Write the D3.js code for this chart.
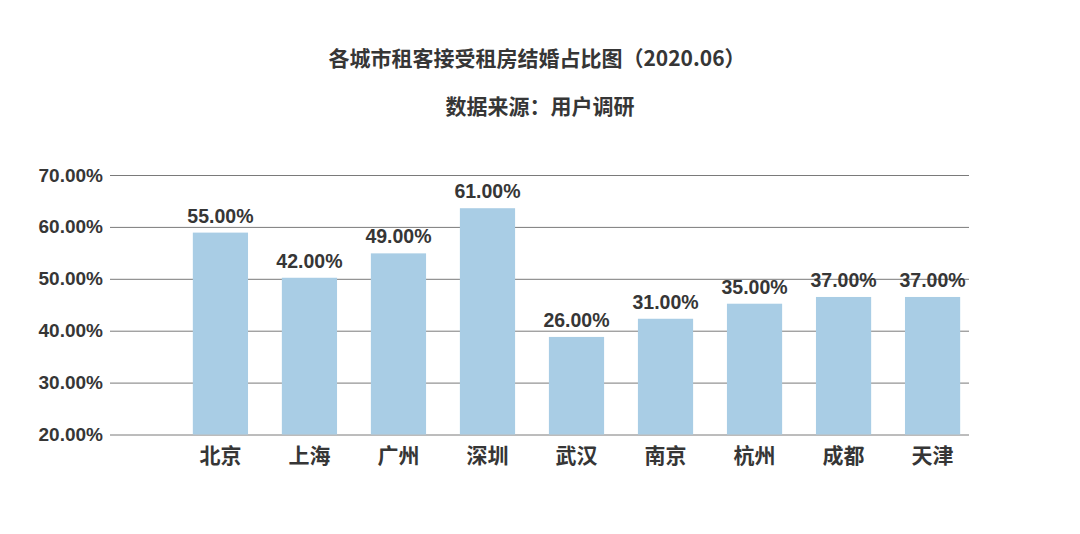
<!DOCTYPE html>
<html lang="zh">
<head>
    <meta charset="UTF-8">
    <title>各城市租客接受租房结婚占比图</title>
    <script src="https://cdnjs.cloudflare.com/ajax/libs/d3/7.8.5/d3.min.js"></script>
    <style>
        body {
            margin: 0;
            padding: 0;
            background-color: #ffffff;
            font-family: "Liberation Sans", Arial, "Noto Sans CJK SC", sans-serif;
        }
        #chart {
            width: 1080px;
            height: 534px;
        }
    </style>
</head>
<body>
    <div id="chart"></div>
    <script>
        // cities on the x axis
        const cities = ["北京", "上海", "广州", "深圳", "武汉", "南京", "杭州", "成都", "天津"];
        // values printed above the bars
        const labelValues = [55, 42, 49, 61, 26, 31, 35, 37, 37];
        // bar heights as drawn in the picture (on the axis scale)
        const barValues = [58.9, 50.2, 54.9, 63.6, 38.8, 42.3, 45.2, 46.5, 46.5];
        // y axis ticks
        const yTicks = [20, 30, 40, 50, 60, 70];

        const width = 1080;
        const height = 534;
        const textColor = "#363636";

        const svg = d3.select("#chart")
            .append("svg")
            .attr("width", width)
            .attr("height", height)
            .attr("viewBox", [0, 0, width, height]);

        const x = d3.scaleBand()
            .domain(cities)
            .range([159, 994])
            .padding(0.38);

        const y = d3.scaleLinear()
            .domain([20, 70])
            .range([434.5, 175]);

        // title
        svg.append("text")
            .attr("x", 537)
            .attr("y", 57)
            .attr("text-anchor", "middle")
            .attr("dominant-baseline", "central")
            .style("font-family", "'Noto Sans CJK SC', sans-serif")
            .style("font-weight", "bold")
            .style("font-size", "21px")
            .style("fill", textColor)
            .text("各城市租客接受租房结婚占比图（2020.06）");

        svg.append("text")
            .attr("x", 540)
            .attr("y", 105)
            .attr("text-anchor", "middle")
            .attr("dominant-baseline", "central")
            .style("font-family", "'Noto Sans CJK SC', sans-serif")
            .style("font-weight", "bold")
            .style("font-size", "21px")
            .style("fill", textColor)
            .text("数据来源：用户调研");

        // grid lines + y labels
        const yAxis = d3.axisLeft(y)
            .tickValues(yTicks)
            .tickSize(-(969 - 110))
            .tickPadding(7)
            .tickFormat(d => d.toFixed(2) + "%");

        const gy = svg.append("g")
            .attr("transform", "translate(110,0)")
            .call(yAxis);
        gy.select(".domain").remove();
        gy.selectAll(".tick line")
            .attr("stroke", "#7a7a7a")
            .attr("stroke-width", 1);
        gy.selectAll(".tick text")
            .attr("x", -7)
            .style("font-family", "'Liberation Sans', Arial, sans-serif")
            .style("font-weight", "bold")
            .style("font-size", "19px")
            .style("fill", textColor);

        // bars
        svg.append("g")
            .selectAll("rect")
            .data(cities)
            .join("rect")
            .attr("x", d => x(d))
            .attr("width", x.bandwidth())
            .attr("y", (d, i) => y(barValues[i]))
            .attr("height", (d, i) => y(20) - y(barValues[i]))
            .attr("fill", "#a9cde5");

        // value labels
        svg.append("g")
            .selectAll("text")
            .data(cities)
            .join("text")
            .attr("x", d => x(d) + x.bandwidth() / 2)
            .attr("y", (d, i) => y(barValues[i]) - 10)
            .attr("text-anchor", "middle")
            .style("font-family", "'Liberation Sans', Arial, sans-serif")
            .style("font-weight", "bold")
            .style("font-size", "19.5px")
            .style("fill", textColor)
            .text((d, i) => labelValues[i].toFixed(2) + "%");

        // x labels
        const xAxis = d3.axisBottom(x).tickSize(0).tickPadding(0);
        const gx = svg.append("g")
            .attr("transform", "translate(0,434.5)")
            .call(xAxis);
        gx.select(".domain").remove();
        gx.selectAll(".tick text")
            .attr("dy", null)
            .attr("y", 19)
            .attr("dominant-baseline", "central")
            .style("font-family", "'Noto Sans CJK SC', sans-serif")
            .style("font-weight", "bold")
            .style("font-size", "21px")
            .style("fill", textColor);
    </script>
</body>
</html>
